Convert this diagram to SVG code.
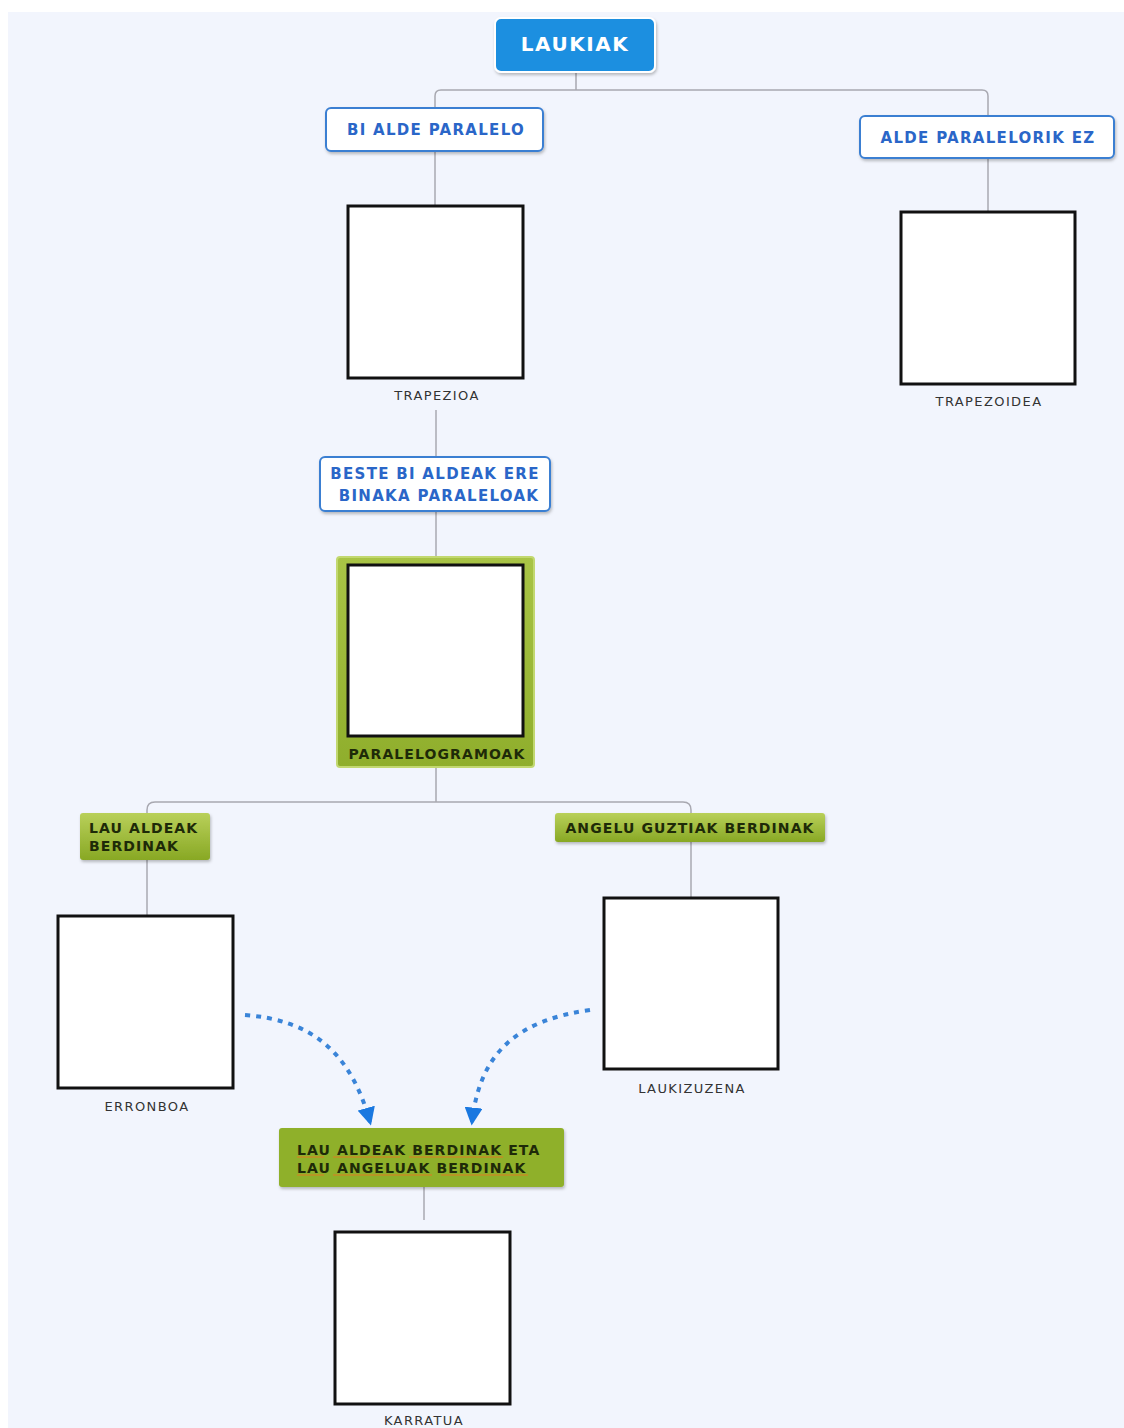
<svg xmlns="http://www.w3.org/2000/svg" width="1124" height="1428" viewBox="0 0 1124 1428">
<defs>
<linearGradient id="grn" x1="0" y1="0" x2="0" y2="1"><stop offset="0" stop-color="#b9d05a"/><stop offset="1" stop-color="#88a824"/></linearGradient>
<linearGradient id="grn2" x1="0" y1="0" x2="0" y2="1"><stop offset="0" stop-color="#a9c446"/><stop offset="1" stop-color="#8fae2c"/></linearGradient>
<marker id="arr" viewBox="0 0 10 10" refX="8" refY="5" markerWidth="4.5" markerHeight="4.5" orient="auto"><path d="M0,0 L10,5 L0,10 z" fill="#1a78e0"/></marker>
<filter id="sh" x="-10%" y="-10%" width="120%" height="130%"><feDropShadow dx="1" dy="2" stdDeviation="1.5" flood-color="#000" flood-opacity="0.25"/></filter>
</defs>
<style>
.bx{fill:#fff;stroke:#3a7fd2;stroke-width:2}
.bt{font-family:"DejaVu Sans",Verdana,sans-serif;font-weight:bold;font-size:15px;letter-spacing:1.3px;fill:#2a66c8}
.gt{font-family:"DejaVu Sans",Verdana,sans-serif;font-weight:bold;font-size:14px;letter-spacing:1.1px;fill:#1e2a08}
.lbl{font-family:"DejaVu Sans",Verdana,sans-serif;font-size:13px;letter-spacing:1.4px;fill:#333}
.img{fill:#fff;stroke:#111;stroke-width:3}
.ln{fill:none;stroke:#a8a8b0;stroke-width:1.5}
.dash{fill:none;stroke:#3a84d8;stroke-width:4;stroke-dasharray:5,6}
.sq{fill:none;stroke:#e07a20;stroke-width:1}
</style>
<rect x="0" y="0" width="1124" height="1428" fill="#fff"/>
<rect x="8" y="12" width="1116" height="1416" fill="#f2f5fd"/>
<g id="connectors">
<path class="ln" d="M576,72 V90 M435,108 V96 Q435,90 441,90 H982 Q988,90 988,96 V116"/>
<path class="ln" d="M435,151 V205"/>
<path class="ln" d="M988,158 V212"/>
<path class="ln" d="M436,410 V457"/>
<path class="ln" d="M436,511 V557"/>
<path class="ln" d="M436,767 V802 M147,813 V810 Q147,802 155,802 H683 Q691,802 691,810 V813"/>
<path class="ln" d="M147,860 V915"/>
<path class="ln" d="M691,842 V897"/>
<path class="ln" d="M424,1187 V1220"/>
<path class="dash" d="M245,1015 C310,1020 350,1050 370,1122" marker-end="url(#arr)"/>
<path class="dash" d="M590,1010 C520,1020 480,1050 472,1122" marker-end="url(#arr)"/>
</g>
<g id="laukiak">
<rect x="495" y="18" width="160" height="54" rx="6" fill="#1f8fe0" stroke="#fff" stroke-width="2" filter="url(#sh)"/>
<text x="575" y="51" text-anchor="middle" font-family="DejaVu Sans,Verdana,sans-serif" font-weight="bold" font-size="20" letter-spacing="1.5" fill="#fff">LAUKIAK</text>
</g>
<g id="bi-alde"><rect class="bx" x="326" y="108" width="217" height="43" rx="5" filter="url(#sh)"/><text class="bt" x="436" y="135" text-anchor="middle">BI ALDE PARALELO</text></g>
<g id="alde-ez"><rect class="bx" x="860" y="116" width="254" height="42" rx="5" filter="url(#sh)"/><text class="bt" x="988" y="143" text-anchor="middle">ALDE PARALELORIK EZ</text></g>
<g id="trapezioa"><rect class="img" x="348" y="206" width="175" height="172"/><text class="lbl" x="437" y="400" text-anchor="middle">TRAPEZIOA</text></g>
<g id="trapezoidea"><rect class="img" x="901" y="212" width="174" height="172"/><text class="lbl" x="989" y="406" text-anchor="middle">TRAPEZOIDEA</text></g>
<g id="beste"><rect class="bx" x="320" y="457" width="230" height="54" rx="5" filter="url(#sh)"/><text class="bt" x="435" y="479" text-anchor="middle">BESTE BI ALDEAK ERE</text><text class="bt" x="439" y="501" text-anchor="middle">BINAKA PARALELOAK</text></g>
<g id="paralelogramoak"><rect x="337" y="557" width="197" height="210" rx="3" fill="url(#grn2)" stroke="#c2d870" stroke-width="2"/><rect class="img" x="348" y="565" width="175" height="171"/><text class="gt" x="437" y="759" text-anchor="middle">PARALELOGRAMOAK</text></g>
<g id="lau-aldeak"><rect x="80" y="813" width="130" height="47" rx="3" fill="url(#grn)" filter="url(#sh)"/><text class="gt" x="89" y="833">LAU ALDEAK</text><text class="gt" x="89" y="851">BERDINAK</text></g>
<g id="angelu"><rect x="555" y="813" width="270" height="29" rx="3" fill="url(#grn)" filter="url(#sh)"/><text class="gt" x="690" y="833" text-anchor="middle">ANGELU GUZTIAK BERDINAK</text></g>
<g id="erronboa"><rect class="img" x="58" y="916" width="175" height="172"/><text class="lbl" x="147" y="1111" text-anchor="middle">ERRONBOA</text></g>
<g id="laukizuzena"><rect class="img" x="604" y="898" width="174" height="171"/><text class="lbl" x="692" y="1093" text-anchor="middle">LAUKIZUZENA</text></g>
<g id="lau-aldeak-eta"><rect x="279" y="1128" width="285" height="59" rx="3" fill="#8fb02a" filter="url(#sh)"/><text class="gt" x="297" y="1155">LAU ALDEAK BERDINAK ETA</text><text class="gt" x="297" y="1173">LAU ANGELUAK BERDINAK</text>
<path class="sq" d="M297,1157 H324 M333,1157 H400 M409,1157 H503 M297,1175 H324 M333,1175 H432 M441,1175 H528"/></g>
<g id="karratua"><rect class="img" x="335" y="1232" width="175" height="172"/><text class="lbl" x="424" y="1425" text-anchor="middle">KARRATUA</text></g>
</svg>
